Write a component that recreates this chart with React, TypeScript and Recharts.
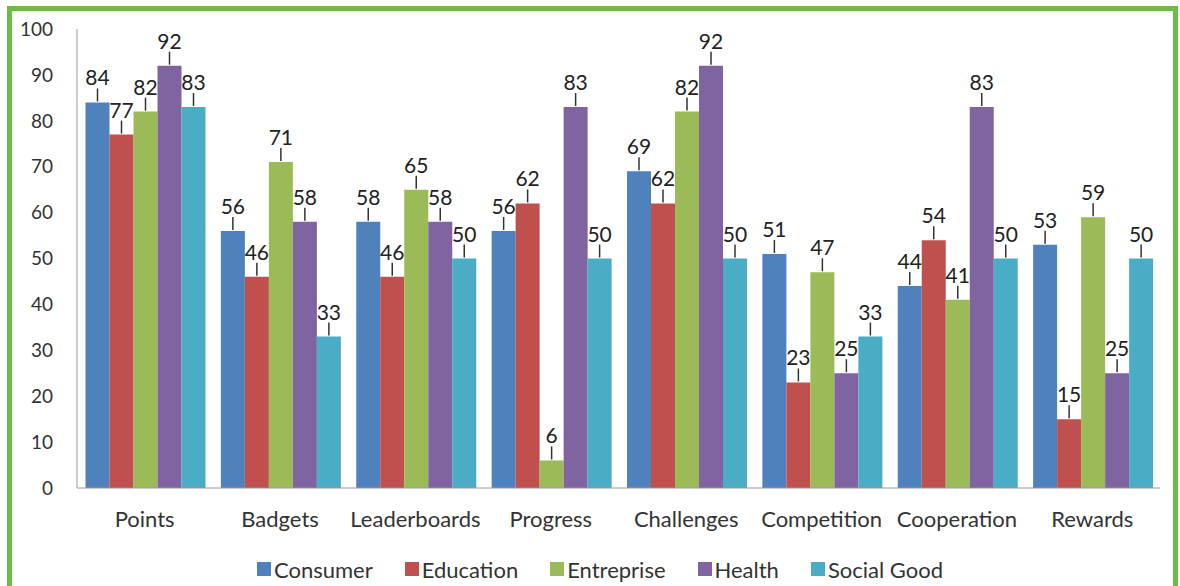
import React from "react";
import { BarChart, Bar, XAxis, YAxis, Legend, LabelList } from "recharts";

const categories = ["Points", "Badgets", "Leaderboards", "Progress", "Challenges", "Competition", "Cooperation", "Rewards"];
const consumer = [84, 56, 58, 56, 69, 51, 44, 53];
const education = [77, 46, 46, 62, 62, 23, 54, 15];
const entreprise = [82, 71, 65, 6, 82, 47, 41, 59];
const health = [92, 58, 58, 83, 92, 25, 83, 25];
const socialGood = [83, 33, 50, 50, 50, 33, 50, 50];
const yTicks = [0, 10, 20, 30, 40, 50, 60, 70, 80, 90, 100];

const seriesDefs = [
  { key: "Consumer", values: consumer, color: "#4F81BD" },
  { key: "Education", values: education, color: "#C0504D" },
  { key: "Entreprise", values: entreprise, color: "#9BBB59" },
  { key: "Health", values: health, color: "#8064A2" },
  { key: "Social Good", values: socialGood, color: "#4BACC6" },
];

const data = categories.map((c, i) => {
  const row: Record<string, string | number> = { name: c };
  seriesDefs.forEach((s) => {
    row[s.key] = s.values[i];
  });
  return row;
});

const FONT = "Lato, 'Open Sans', sans-serif";

const BarValueLabel = (props: any) => {
  const { x, y, width, value } = props;
  const cx = Number(x) + Number(width) / 2;
  const top = Number(y);
  return (
    <g>
      <line x1={cx} x2={cx} y1={top - 14} y2={top - 1} stroke="#333" strokeWidth={1.5} />
      <text x={cx} y={top - 17} textAnchor="middle" fill="#222" fontSize={21} fontFamily={FONT}>
        {value}
      </text>
    </g>
  );
};

const LegendContent = () => (
  <div
    style={{
      display: "flex",
      justifyContent: "center",
      alignItems: "center",
      height: 28,
      fontFamily: FONT,
      fontSize: 22,
      color: "#333",
      paddingLeft: 20,
    }}
  >
    {seriesDefs.map((s) => (
      <div key={s.key} style={{ display: "flex", alignItems: "center", margin: "0 16px" }}>
        <span style={{ display: "inline-block", width: 14, height: 14, background: s.color, marginRight: 3 }} />
        <span>{s.key}</span>
      </div>
    ))}
  </div>
);

export default function App() {
  return (
    <div
      style={{
        position: "absolute",
        left: 0,
        top: 0,
        width: 1180,
        height: 586,
        overflow: "hidden",
        background: "#ffffff",
      }}
    >
      <div
        style={{
          position: "absolute",
          left: 7,
          top: 6,
          width: 1161,
          height: 620,
          border: "5px solid #6CBD45",
        }}
      />
      <div style={{ position: "absolute", left: 0, top: 0 }}>
        <BarChart
          width={1180}
          height={586}
          data={data}
          margin={{ top: 29, right: 20, left: 0, bottom: 24 }}
          barCategoryGap={8.5}
          barGap={0}
        >
          <XAxis
            dataKey="name"
            height={46}
            tickLine={false}
            tickSize={0}
            tickMargin={23}
            axisLine={{ stroke: "#999" }}
            tick={{ fill: "#333", fontSize: 22, fontFamily: FONT }}
            interval={0}
          />
          <YAxis
            width={77}
            domain={[0, 100]}
            ticks={yTicks}
            tickLine={false}
            tickSize={0}
            tickMargin={24}
            axisLine={{ stroke: "#999" }}
            tick={{ fill: "#333", fontSize: 19, fontFamily: FONT }}
            interval={0}
          />
          <Legend
            verticalAlign="bottom"
            content={<LegendContent />}
            wrapperStyle={{ position: "absolute", top: 555, left: 0, width: 1180, height: 28 }}
          />
          {seriesDefs.map((s) => (
            <Bar key={s.key} dataKey={s.key} fill={s.color} isAnimationActive={false}>
              <LabelList dataKey={s.key} content={<BarValueLabel />} />
            </Bar>
          ))}
        </BarChart>
      </div>
    </div>
  );
}
